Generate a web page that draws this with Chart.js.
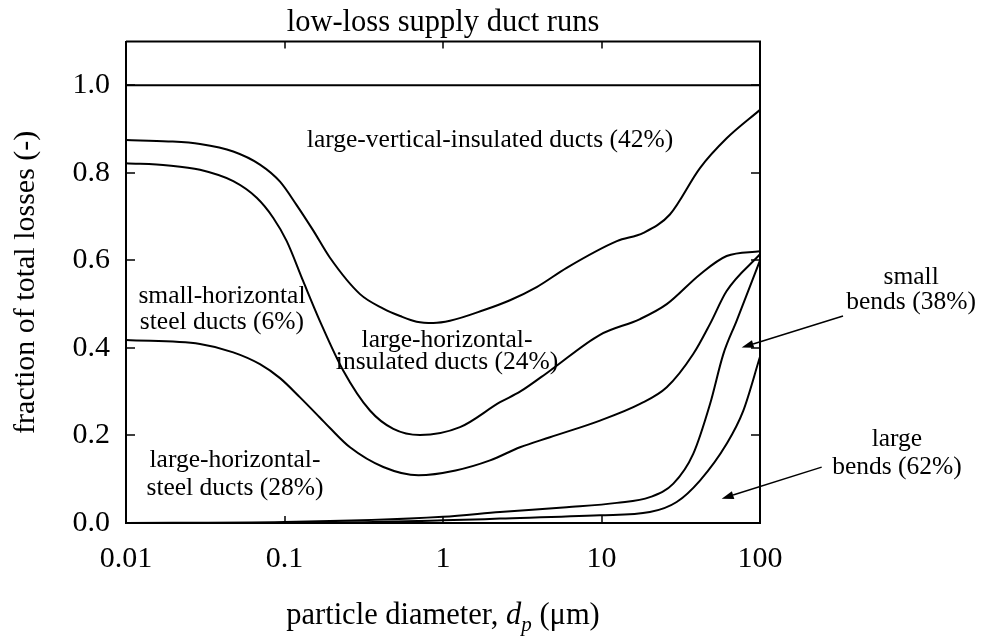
<!DOCTYPE html>
<html lang="en">
<head>
<meta charset="utf-8">
<title>low-loss supply duct runs</title>
<script src="https://cdn.jsdelivr.net/npm/chart.js"></script>
<style>
  html, body { margin: 0; padding: 0; background: #fff; }
  #wrap { width: 981px; height: 640px; }
</style>
</head>
<body>
<div id="wrap"><canvas id="myChart" width="981" height="640"></canvas></div>
<script>
// tick values
var xTicks = [0.01, 0.1, 1, 10, 100];
var yTicks = [0, 0.2, 0.4, 0.6, 0.8, 1.0];

// total losses line (= 1)
var totalX = [0.01, 100];
var totalY = [1, 1];

// cumulative boundaries (top edge of each band)
var smallHorizSteelTopX = [0.01, 0.0185, 0.0293, 0.0475, 0.070, 0.0937, 0.119, 0.152, 0.1936, 0.2995, 0.42, 0.536, 0.682, 0.869, 1.107, 1.797, 2.646, 3.90, 6.03, 12.5, 18.4, 27.0, 41.8, 61.6, 100];
var smallHorizSteelTopY = [0.875, 0.872, 0.866, 0.849, 0.819, 0.780, 0.727, 0.668, 0.606, 0.523, 0.490, 0.473, 0.460, 0.457, 0.462, 0.486, 0.509, 0.539, 0.583, 0.644, 0.663, 0.705, 0.811, 0.879, 0.944];

var largeHorizInsTopX = [0.01, 0.0185, 0.0293, 0.0475, 0.0668, 0.085, 0.1033, 0.131, 0.167, 0.235, 0.346, 0.486, 0.716, 1.28, 2.29, 3.06, 4.73, 9.78, 17.5, 25.8, 41.8, 61.6, 100];
var largeHorizInsTopY = [0.822, 0.817, 0.807, 0.781, 0.743, 0.697, 0.644, 0.553, 0.462, 0.348, 0.257, 0.215, 0.201, 0.219, 0.276, 0.300, 0.348, 0.430, 0.466, 0.500, 0.568, 0.610, 0.621];

var largeHorizSteelTopX = [0.01, 0.0293, 0.0475, 0.070, 0.0937, 0.1253, 0.167, 0.1936, 0.259, 0.42, 0.70, 1.2, 1.98, 3.06, 4.73, 9.78, 17.5, 25.8, 37.9, 48.4, 61.6, 100];
var largeHorizSteelTopY = [0.418, 0.409, 0.390, 0.363, 0.331, 0.287, 0.241, 0.217, 0.173, 0.128, 0.109, 0.120, 0.143, 0.173, 0.196, 0.234, 0.272, 0.310, 0.386, 0.455, 0.530, 0.614];

var smallBendsTopX = [0.01, 0.1, 1, 2.29, 6.03, 12.5, 20.2, 28.4, 37.9, 48.4, 58.7, 71.2, 100];
var smallBendsTopY = [0.0, 0.002, 0.014, 0.025, 0.036, 0.046, 0.059, 0.090, 0.158, 0.272, 0.386, 0.462, 0.600];

var largeBendsTopX = [0.01, 0.1, 1, 2.29, 9.78, 20.2, 29.8, 41.8, 61.6, 78.5, 100];
var largeBendsTopY = [0.0, 0.0, 0.006, 0.010, 0.0175, 0.025, 0.048, 0.097, 0.181, 0.257, 0.38];

// region labels: [text, x, y(baseline)]
var notes = [
  ['large-vertical-insulated ducts (42%)', 1.98, 0.860],
  ['small-horizontal', 0.0403, 0.502],
  ['steel ducts (6%)', 0.0403, 0.4435],
  ['large-horizontal-', 1.06, 0.4025],
  ['insulated ducts (24%)', 1.06, 0.3524],
  ['large-horizontal-', 0.0487, 0.127],
  ['steel ducts (28%)', 0.0487, 0.0631],
  ['small', 898, 0.546],
  ['bends (38%)', 898, 0.489],
  ['large', 731, 0.177],
  ['bends (62%)', 731, 0.113]
];
// arrows: [fromX, fromY, toX, toY]
var arrows = [
  [334, 0.473, 76.6, 0.401],
  [245, 0.1276, 57.3, 0.0556]
];

function pts(xs, ys) {
  return xs.map(function (x, i) { return { x: x, y: ys[i] }; });
}

function curve(xs, ys) {
  return {
    data: pts(xs, ys),
    borderColor: '#000',
    borderWidth: 2,
    pointRadius: 0,
    fill: false,
    cubicInterpolationMode: 'monotone'
  };
}

var serif = '"Liberation Serif", "Times New Roman", serif';
Chart.defaults.font.family = serif;
Chart.defaults.color = '#000';

// frame, inside ticks, labels, arrows, x title
var decor = {
  id: 'decor',
  afterDraw: function (chart) {
    var ctx = chart.ctx;
    var ca = chart.chartArea;
    var xs = chart.scales.x, ys = chart.scales.y;
    ctx.save();
    ctx.strokeStyle = '#000';
    ctx.fillStyle = '#000';

    ctx.lineWidth = 2;
    ctx.beginPath();
    ctx.moveTo(ca.left, ca.top);
    ctx.lineTo(ca.right, ca.top);
    ctx.lineTo(ca.right, ca.bottom);
    ctx.stroke();

    ctx.lineWidth = 1.5;
    ctx.beginPath();
    xTicks.forEach(function (t) {
      var p = Math.round(xs.getPixelForValue(t));
      ctx.moveTo(p, ca.bottom); ctx.lineTo(p, ca.bottom - 7);
      ctx.moveTo(p, ca.top); ctx.lineTo(p, ca.top + 7);
    });
    yTicks.forEach(function (t) {
      var p = Math.round(ys.getPixelForValue(t));
      ctx.moveTo(ca.left, p); ctx.lineTo(ca.left + 9, p);
      ctx.moveTo(ca.right, p); ctx.lineTo(ca.right - 9, p);
    });
    ctx.stroke();

    ctx.font = '25.5px ' + serif;
    ctx.textAlign = 'center';
    ctx.textBaseline = 'alphabetic';
    notes.forEach(function (n) {
      ctx.fillText(n[0], xs.getPixelForValue(n[1]), ys.getPixelForValue(n[2]));
    });

    ctx.lineWidth = 1.5;
    arrows.forEach(function (a) {
      var x0 = xs.getPixelForValue(a[0]), y0 = ys.getPixelForValue(a[1]);
      var x1 = xs.getPixelForValue(a[2]), y1 = ys.getPixelForValue(a[3]);
      var ang = Math.atan2(y1 - y0, x1 - x0);
      var L = 12, W = 4;
      var bx = x1 - L * Math.cos(ang), by = y1 - L * Math.sin(ang);
      ctx.beginPath();
      ctx.moveTo(x0, y0); ctx.lineTo(bx, by);
      ctx.stroke();
      ctx.beginPath();
      ctx.moveTo(x1, y1);
      ctx.lineTo(bx + W * Math.sin(ang), by - W * Math.cos(ang));
      ctx.lineTo(bx - W * Math.sin(ang), by + W * Math.cos(ang));
      ctx.closePath();
      ctx.fill();
    });

    // x axis title with italic d and subscript p
    var parts = [
      ['particle diameter, ', '30.5px ' + serif, 0],
      ['d', 'italic 30.5px ' + serif, 0],
      ['p', 'italic 21px ' + serif, 7],
      [' (\u03bcm)', '30.5px ' + serif, 0]
    ];
    var total = 0;
    parts.forEach(function (p) { ctx.font = p[1]; p.push(ctx.measureText(p[0]).width); total += p[3]; });
    var cx = (ca.left + ca.right) / 2 - total / 2;
    ctx.textAlign = 'left';
    parts.forEach(function (p) {
      ctx.font = p[1];
      ctx.fillText(p[0], cx, 624 + p[2]);
      cx += p[3];
    });
    ctx.restore();
  }
};

new Chart(document.getElementById('myChart'), {
  type: 'line',
  data: {
    datasets: [
      { data: pts(totalX, totalY), borderColor: '#000', borderWidth: 2, pointRadius: 0, fill: false },
      curve(smallHorizSteelTopX, smallHorizSteelTopY),
      curve(largeHorizInsTopX, largeHorizInsTopY),
      curve(largeHorizSteelTopX, largeHorizSteelTopY),
      curve(smallBendsTopX, smallBendsTopY),
      curve(largeBendsTopX, largeBendsTopY)
    ]
  },
  options: {
    responsive: false,
    animation: false,
    devicePixelRatio: 1,
    layout: { padding: { left: 0, right: 221, top: 0, bottom: 0 } },
    plugins: {
      legend: { display: false },
      tooltip: { enabled: false },
      title: {
        display: true,
        text: 'low-loss supply duct runs',
        fullSize: false,
        color: '#000',
        font: { size: 30.5, weight: 'normal' },
        padding: { top: 5, bottom: 0 }
      }
    },
    scales: {
      x: {
        type: 'logarithmic',
        min: 0.01,
        max: 100,
        afterBuildTicks: function (s) { s.ticks = xTicks.map(function (v) { return { value: v }; }); },
        afterFit: function (s) { s.height = 117; },
        ticks: {
          padding: 18,
          autoSkip: false,
          maxRotation: 0,
          color: '#000',
          font: { size: 30 },
          callback: function (v) { return String(v); }
        },
        grid: { drawOnChartArea: false, drawTicks: false },
        border: { color: '#000', width: 2 }
      },
      y: {
        min: 0,
        max: 1.1,
        afterBuildTicks: function (s) { s.ticks = yTicks.map(function (v) { return { value: v }; }); },
        afterFit: function (s) { s.width = 126; },
        ticks: {
          padding: 16,
          color: '#000',
          font: { size: 30 },
          callback: function (v) { return v.toFixed(1); }
        },
        title: {
          display: true,
          text: 'fraction of total losses (-)',
          color: '#000',
          font: { size: 30 },
          padding: { top: 8, bottom: 0 }
        },
        grid: { drawOnChartArea: false, drawTicks: false },
        border: { color: '#000', width: 2 }
      }
    }
  },
  plugins: [decor]
});
</script>
</body>
</html>
